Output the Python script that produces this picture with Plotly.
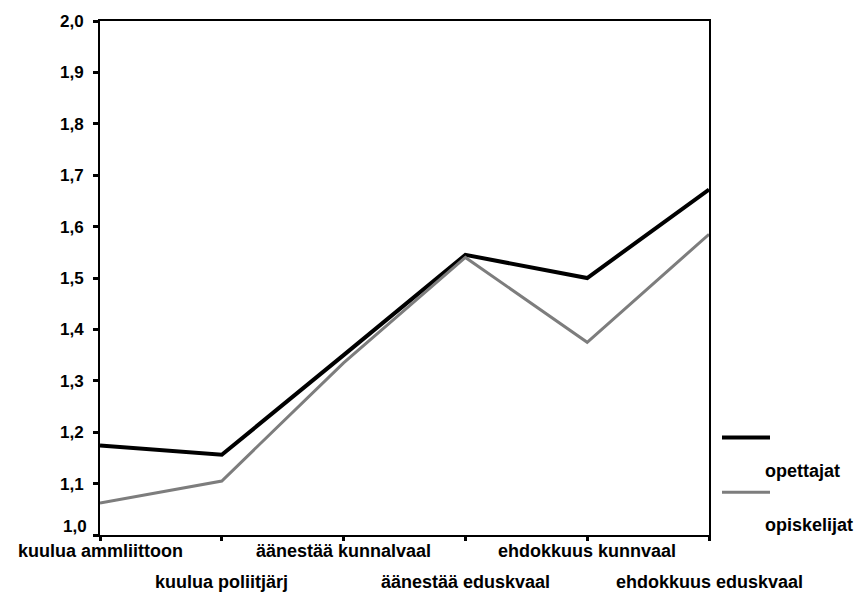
import plotly.graph_objects as go

categories = ['kuulua ammliittoon', 'kuulua poliitjärj', 'äänestää kunnalvaal',
              'äänestää eduskvaal', 'ehdokkuus kunnvaal', 'ehdokkuus eduskvaal']
opettajat = [1.174, 1.156, 1.35, 1.545, 1.500, 1.672]
opiskelijat = [1.062, 1.105, 1.335, 1.540, 1.375, 1.585]
y_ticks = [1.0, 1.1, 1.2, 1.3, 1.4, 1.5, 1.6, 1.7, 1.8, 1.9, 2.0]

FONT = 'Liberation Sans, Arial, sans-serif'
x_idx = list(range(len(categories)))

# plot box in page pixels (body margin is removed below)
PX0, PX1, PY0, PY1 = 100, 709, 19, 535


def px(x):
    return (x - PX0) / (PX1 - PX0)


def py(y):
    return (PY1 - y) / (PY1 - PY0)


fig = go.Figure()
fig.add_trace(go.Scatter(x=x_idx, y=opettajat, mode='lines', name='opettajat',
                         line=dict(color='black', width=4), showlegend=False))
fig.add_trace(go.Scatter(x=x_idx, y=opiskelijat, mode='lines', name='opiskelijat',
                         line=dict(color='#7d7d7d', width=3), showlegend=False))

# category labels in two staggered rows, like the original
annotations = []
for i, cat in enumerate(categories):
    annotations.append(dict(
        x=i, y=0, xref='x', yref='paper', text='<b>%s</b>' % cat,
        showarrow=False, xanchor='center', yanchor='middle',
        yshift=-16 if i % 2 == 0 else -47,
        font=dict(family=FONT, size=18, color='black')))

# lowest y label sits a bit higher than its tick in the original
y_labels = [('%.1f' % v).replace('.', ',') for v in y_ticks]
annotations.append(dict(
    x=0, y=y_ticks[0], xref='paper', yref='y', text='<b>%s</b>' % y_labels[0],
    showarrow=False, xanchor='right', yanchor='middle', xshift=-11, yshift=9,
    font=dict(family=FONT, size=17, color='black')))

# hand-made legend: line sample, label below it
legend_items = [('opettajat', 'black', 4, 437, 471),
                ('opiskelijat', '#7d7d7d', 3, 492, 525)]
shapes = []
for name, col, w, y_line, y_text in legend_items:
    shapes.append(dict(type='line', xref='paper', yref='paper',
                       x0=px(722), x1=px(770), y0=py(y_line), y1=py(y_line),
                       line=dict(color=col, width=w)))
    annotations.append(dict(
        x=px(763), y=py(y_text), xref='paper', yref='paper',
        text='<b>%s</b>' % name, showarrow=False, xanchor='left', yanchor='middle',
        font=dict(family=FONT, size=18, color='black')))

fig.update_layout(
    width=859, height=592,
    margin=dict(l=PX0, r=859 - PX1, t=PY0, b=592 - PY1),
    paper_bgcolor='white', plot_bgcolor='white',
    font=dict(family=FONT, size=17, color='black'),
    annotations=annotations,
    shapes=shapes,
    xaxis=dict(range=[0, 5], tickvals=x_idx, ticktext=['' for _ in x_idx],
               showgrid=False, zeroline=False, showline=True, mirror=True,
               linecolor='black', linewidth=2,
               ticks='outside', ticklen=4, tickwidth=3, tickcolor='black'),
    yaxis=dict(range=[1.0, 2.0], tickvals=y_ticks,
               ticktext=[''] + y_labels[1:],
               showgrid=False, zeroline=False, showline=True, mirror=True,
               linecolor='black', linewidth=2,
               ticks='outside', ticklen=5, tickwidth=3, tickcolor='black',
               ticklabelstandoff=6,
               tickfont=dict(family=FONT, size=17, color='black', weight='bold')),
)

fig.write_html("out.html", config={'displayModeBar': False},
               post_script="document.body.style.margin='0';"
                           "document.body.style.overflow='hidden';")
